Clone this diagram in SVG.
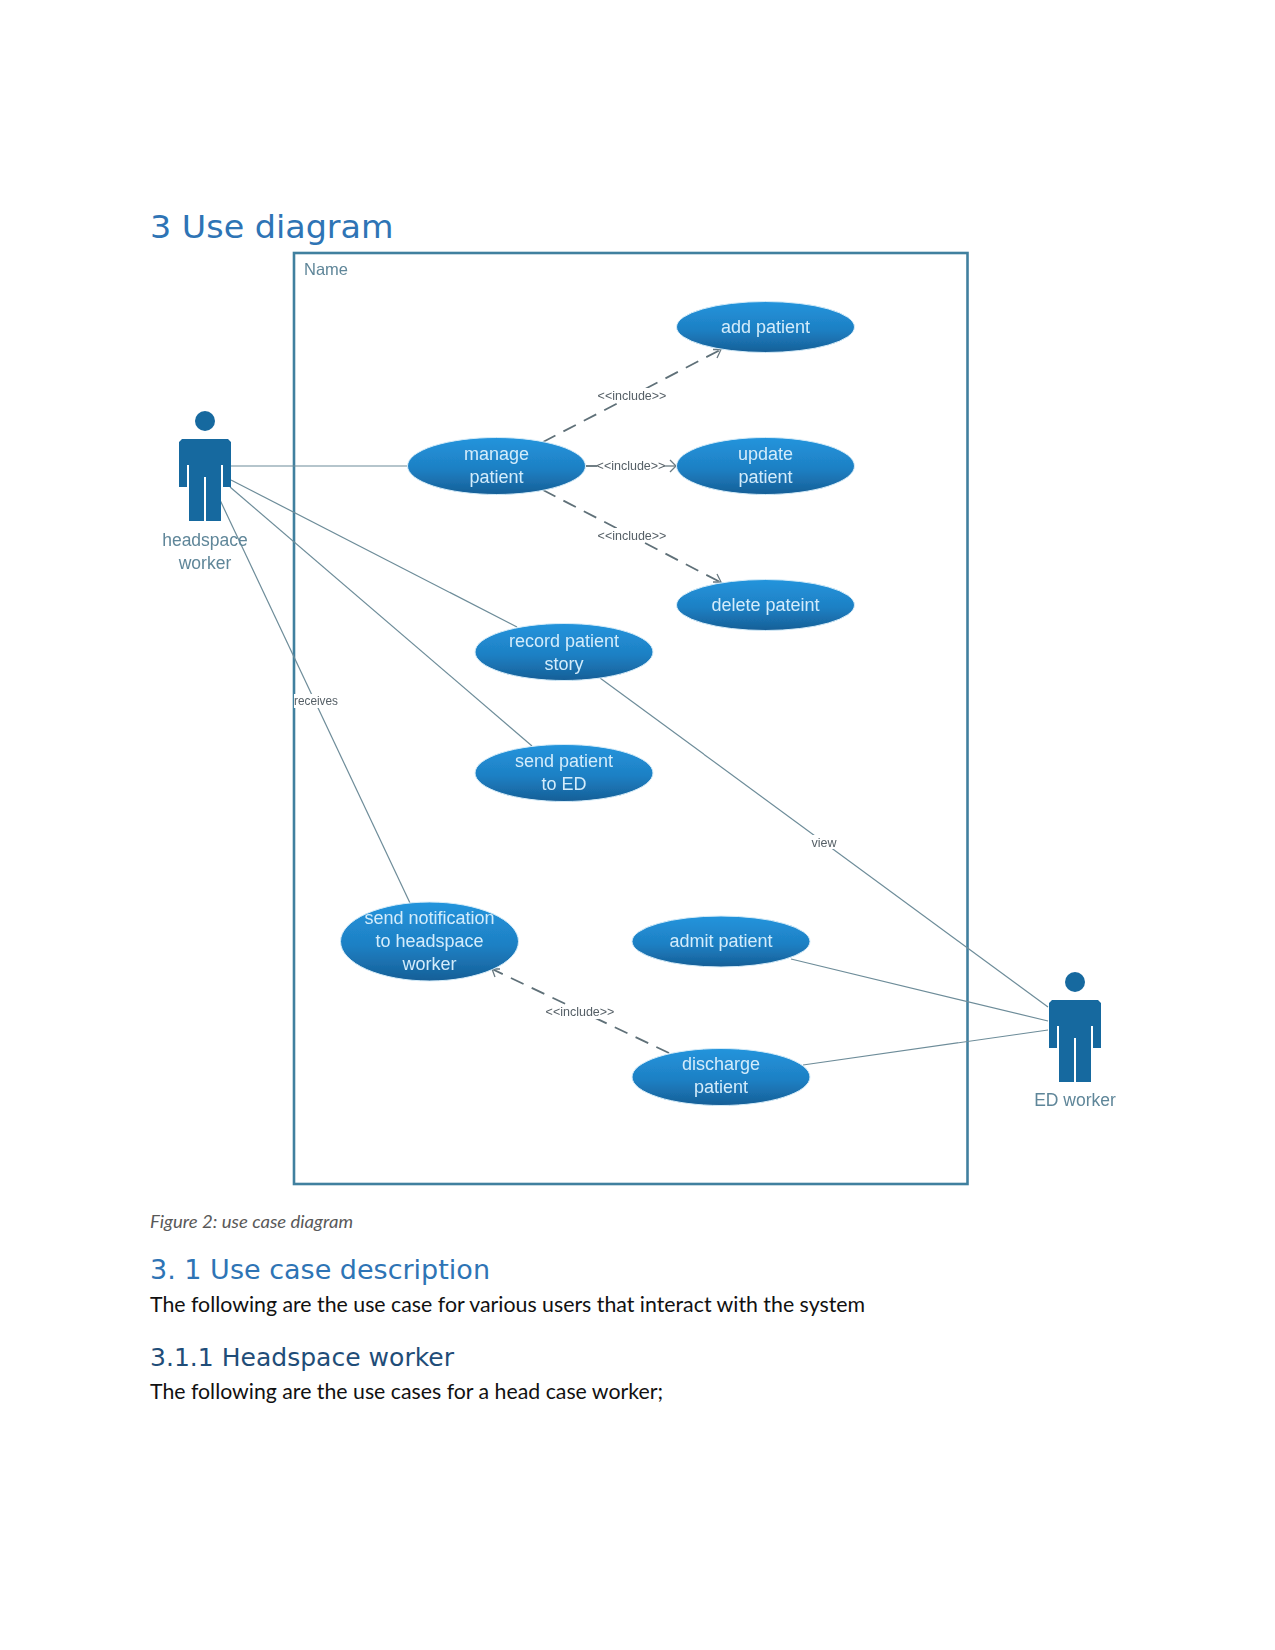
<svg xmlns="http://www.w3.org/2000/svg" width="1275" height="1650" viewBox="0 0 1275 1650">
  <style>
    .h { font-family: "DejaVu Sans", sans-serif; fill: #2E74B5; }
    .body { font-family: "Lato", "Liberation Sans", sans-serif; font-size: 22px; fill: #111; }
    .uc { fill: url(#ucFill); stroke: #d4ebf8; stroke-width: 1; }
    .uct { font-family: "Liberation Sans", sans-serif; font-size: 18px; fill: #d3ecfb; text-anchor: middle; }
    .act { fill: #17699f; }
    .actt { font-family: "Liberation Sans", sans-serif; font-size: 17.5px; fill: #5f8699; text-anchor: middle; }
    .assoc { stroke: #6d8c99; stroke-width: 1.2; fill: none; }
    .dash { stroke: #5f7078; stroke-width: 1.8; stroke-dasharray: 14 9; fill: none; }
    .head { stroke: #6a7a82; stroke-width: 1.3; fill: none; }
    .lab { font-family: "Liberation Sans", sans-serif; font-size: 12.5px; fill: #555f66; text-anchor: middle; }
    .lbg { fill: #fff; }
  </style>
  <defs>
    <linearGradient id="ucFill" x1="0" y1="0" x2="0" y2="1">
      <stop offset="0" stop-color="#2394dc"/>
      <stop offset="0.55" stop-color="#1e80c4"/>
      <stop offset="1" stop-color="#165f97"/>
    </linearGradient>
    <filter id="soft" x="-5%" y="-5%" width="110%" height="110%"><feGaussianBlur stdDeviation="0.45"/></filter>
    <path id="actor" d="M-23,18 L23,18 L26,21 L26,66 L18,66 L18,44 L16,44 L16,100 L1,100 L1,56 L-1,56 L-1,100 L-16,100 L-16,44 L-18,44 L-18,66 L-26,66 L-26,21 Z"/>
  </defs>

  <text class="h" x="150" y="238" font-size="32" textLength="243.500" lengthAdjust="spacingAndGlyphs">3 Use diagram</text>

  <g filter="url(#soft)">
    <rect id="system" x="294" y="253" width="673.500" height="931" fill="#fff" stroke="#41809f" stroke-width="2.6"/>
    <text x="304" y="275" font-family="Liberation Sans, sans-serif" font-size="16.500" fill="#5f8699">Name</text>

    <g id="connectors">
      <line class="assoc" x1="231" y1="466" x2="408" y2="466"/>
      <line class="assoc" x1="231" y1="480" x2="517" y2="627"/>
      <line class="assoc" x1="230" y1="487" x2="532" y2="746"/>
      <line class="assoc" x1="220" y1="500" x2="410" y2="903"/>
      <line class="assoc" x1="600" y1="678" x2="1048" y2="1007"/>
      <line class="assoc" x1="791" y1="959" x2="1048" y2="1021"/>
      <line class="assoc" x1="803" y1="1065" x2="1048" y2="1030"/>

      <line class="dash" x1="543" y1="442" x2="720" y2="350"/>
      <path class="head" d="M713,349.500 L721,349.500 L717,358"/>
      <line class="dash" x1="586" y1="466" x2="597" y2="466" stroke-dasharray="none"/>
      <line class="head" x1="664" y1="466" x2="676" y2="466"/>
      <path class="head" d="M670,460 L676,466 L670,472"/>
      <line class="dash" x1="543" y1="490" x2="720" y2="582"/>
      <path class="head" d="M717,574 L721,582 L713,582"/>
      <line class="dash" x1="669" y1="1053" x2="492" y2="969"/>
      <path class="head" d="M500,969 L492,969 L495,977"/>

      <rect class="lbg" x="597" y="388" width="70" height="14"/>
      <text class="lab" x="632" y="399.500">&lt;&lt;include&gt;&gt;</text>
      <text class="lab" x="631" y="469.500">&lt;&lt;include&gt;&gt;</text>
      <rect class="lbg" x="597" y="528" width="70" height="14"/>
      <text class="lab" x="632" y="539.500">&lt;&lt;include&gt;&gt;</text>
      <rect class="lbg" x="545" y="1005" width="70" height="14"/>
      <text class="lab" x="580" y="1016">&lt;&lt;include&gt;&gt;</text>
      <rect class="lbg" x="294" y="694" width="44" height="14"/>
      <text class="lab" x="316" y="705" textLength="44" lengthAdjust="spacingAndGlyphs">receives</text>
      <rect class="lbg" x="811" y="835" width="27" height="14"/>
      <text class="lab" x="824" y="846.500">view</text>
    </g>

    <g id="actor-headspace">
      <circle class="act" cx="205" cy="421" r="10"/>
      <use href="#actor" class="act" x="205" y="421"/>
      <text class="actt" x="205" y="546">headspace</text>
      <text class="actt" x="205" y="569">worker</text>
    </g>
    <g id="actor-ed">
      <circle class="act" cx="1075" cy="982" r="10"/>
      <use href="#actor" class="act" x="1075" y="982"/>
      <text class="actt" x="1075" y="1106">ED worker</text>
    </g>

    <g id="uc-manage"><ellipse class="uc" cx="496.500" cy="466" rx="89" ry="28.500"/><text class="uct" x="496.500" y="460">manage</text><text class="uct" x="496.500" y="483">patient</text></g>
    <g id="uc-add"><ellipse class="uc" cx="765.500" cy="327" rx="89" ry="25.500"/><text class="uct" x="765.500" y="333">add patient</text></g>
    <g id="uc-update"><ellipse class="uc" cx="765.500" cy="466" rx="89" ry="28.500"/><text class="uct" x="765.500" y="460">update</text><text class="uct" x="765.500" y="483">patient</text></g>
    <g id="uc-delete"><ellipse class="uc" cx="765.500" cy="605" rx="89" ry="25.500"/><text class="uct" x="765.500" y="611">delete pateint</text></g>
    <g id="uc-record"><ellipse class="uc" cx="564" cy="652" rx="89" ry="28.500"/><text class="uct" x="564" y="647">record patient</text><text class="uct" x="564" y="670">story</text></g>
    <g id="uc-send-ed"><ellipse class="uc" cx="564" cy="773" rx="89" ry="28.500"/><text class="uct" x="564" y="767">send patient</text><text class="uct" x="564" y="790">to ED</text></g>
    <g id="uc-notify"><ellipse class="uc" cx="429.500" cy="941.500" rx="89" ry="39.500"/><text class="uct" x="429.500" y="924">send notification</text><text class="uct" x="429.500" y="947">to headspace</text><text class="uct" x="429.500" y="970">worker</text></g>
    <g id="uc-admit"><ellipse class="uc" cx="721" cy="941.500" rx="89" ry="25.500"/><text class="uct" x="721" y="947">admit patient</text></g>
    <g id="uc-discharge"><ellipse class="uc" cx="721" cy="1077" rx="89" ry="28.500"/><text class="uct" x="721" y="1070">discharge</text><text class="uct" x="721" y="1093">patient</text></g>
  </g>

  <text x="150" y="1228" font-family="Lato, sans-serif" font-style="italic" font-size="18" fill="#595959" textLength="203" lengthAdjust="spacingAndGlyphs">Figure 2: use case diagram</text>
  <text class="h" x="150" y="1279" font-size="26" textLength="340" lengthAdjust="spacingAndGlyphs">3. 1 Use case description</text>
  <text class="body" x="150" y="1312" textLength="715" lengthAdjust="spacingAndGlyphs">The following are the use case for various users that interact with the system</text>
  <text class="h" x="150" y="1366" font-size="24" style="fill:#1F4D78" textLength="304" lengthAdjust="spacingAndGlyphs">3.1.1 Headspace worker</text>
  <text class="body" x="150" y="1399" textLength="513" lengthAdjust="spacingAndGlyphs">The following are the use cases for a head case worker;</text>
</svg>
